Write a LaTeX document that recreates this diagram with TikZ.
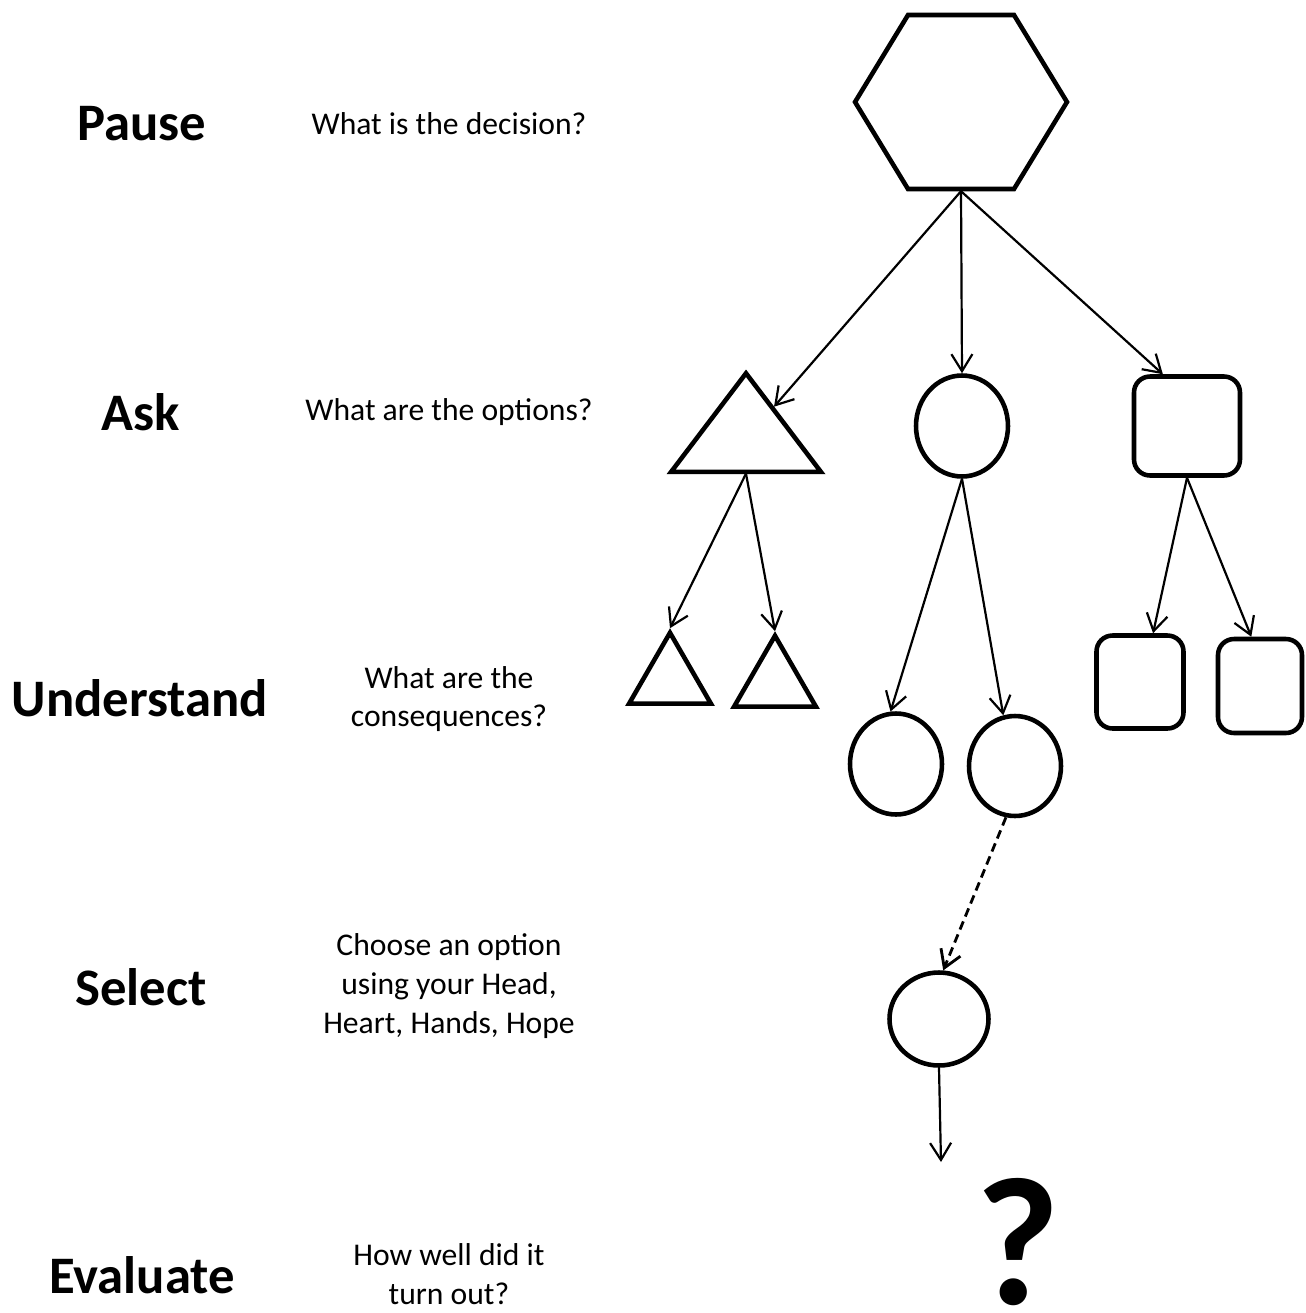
\documentclass[tikz,border=0pt]{standalone}
\usepackage{fontspec}
\setmainfont{Carlito}
\usetikzlibrary{shapes.geometric,arrows.meta}

\begin{document}
\begin{tikzpicture}[x=0.02cm,y=-0.02cm,
	stage/.style={font=\fontsize{30}{36}\selectfont\bfseries},
	prompt/.style={font=\fontsize{18}{22}\selectfont, align=center},
	shp/.style={draw, line width=2.6pt, inner sep=0pt},
	link/.style={line width=1.25pt, -{Straight Barb[length=3.4mm,width=4.2mm]}}]
	\useasboundingbox (0,0) rectangle (1306,1313);
	\node[stage] (pause) at (142,124) {Pause};
	\node[stage] (ask) at (141,412) {Ask};
	\node[stage] (understand) at (140,698) {Understand};
	\node[stage] (select) at (141,987) {Select};
	\node[stage] (evaluate) at (142,1275) {Evaluate};
	\node[prompt] (qpause) at (449,124) {What is the decision?};
	\node[prompt] (qask) at (449,412) {What are the options?};
	\node[prompt] (qunderstand) at (449,699) {What are the\\consequences?};
	\node[prompt] (qselect) at (449,986) {Choose an option\\using your Head,\\Heart, Hands, Hope};
	\node[prompt] (qevaluate) at (449,1274) {How well did it\\turn out?};
	\node[shp, regular polygon, regular polygon sides=6, minimum size=4.24cm, yscale=0.948] (decision) at (961,102) {};
	\node[shp, regular polygon, regular polygon sides=3, minimum size=3.46cm, yscale=0.76] (tri) at (746,439) {};
	\node[shp, ellipse, minimum width=1.84cm, minimum height=2.02cm] (circ) at (962,426) {};
	\node[shp, rectangle, rounded corners=0.32cm, minimum width=2.12cm, minimum height=1.98cm] (sq) at (1187,426) {};
	\node[shp, regular polygon, regular polygon sides=3, minimum size=1.89cm] (tril) at (670,680) {};
	\node[shp, regular polygon, regular polygon sides=3, minimum size=1.89cm] (trir) at (775,683) {};
	\node[shp, ellipse, minimum width=1.84cm, minimum height=2.02cm] (circl) at (896,764) {};
	\node[shp, ellipse, minimum width=1.84cm, minimum height=2.0cm] (circr) at (1015,766) {};
	\node[shp, rectangle, rounded corners=0.32cm, minimum width=1.74cm, minimum height=1.86cm] (sql) at (1140,682) {};
	\node[shp, rectangle, rounded corners=0.32cm, minimum width=1.68cm, minimum height=1.88cm] (sqr) at (1260,686) {};
	\node[shp, ellipse, minimum width=1.98cm, minimum height=1.86cm] (pick) at (939,1019) {};
	\node[inner sep=0pt, font=\fontsize{104}{104}\selectfont\bfseries] (unknown) at (1018,1242) {?};
	\coordinate (outcome) at (941,1162);
	\draw[link] (decision.south) -- (tri);
	\draw[link] (decision.south) -- (circ.north);
	\draw[link] (decision.south) -- (sq.115);
	\draw[link] (tri.south) -- (tril.north);
	\draw[link] (tri.south) -- (trir.north);
	\draw[link] (circ.south) -- (circl.96);
	\draw[link] (circ.south) -- (circr.103);
	\draw[link] (sq.south) -- (sql.75);
	\draw[link] (sq.south) -- (sqr.100);
	\draw[link, line width=1.6pt, dash pattern=on 5pt off 3pt] (circr.-100) -- (pick.85);
	\draw[link] (pick.south) -- (outcome);
\end{tikzpicture}
\end{document}
